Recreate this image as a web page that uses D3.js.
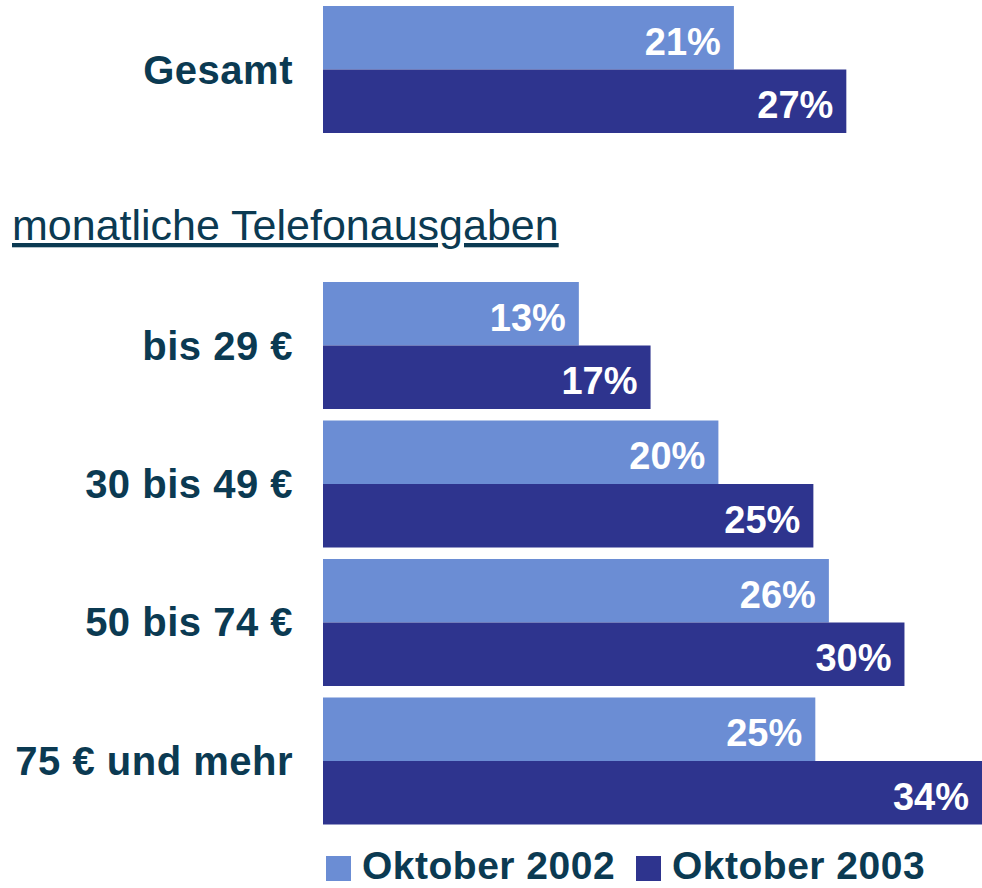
<!DOCTYPE html>
<html>
<head>
<meta charset="utf-8">
<script src="https://cdn.jsdelivr.net/npm/d3@7"></script>
<style>
  body { margin: 0; background: #fff; }
  text { font-family: "Liberation Sans", Arial, sans-serif; }
</style>
</head>
<body>
<div id="chart"></div>
<script>
// Data (share in %, bar lengths estimated; labels show rounded values)
var totalCategory = ["Gesamt"];
var totalValues2002 = [21.2];
var totalValues2003 = [27.0];

var categories = ["bis 29 €", "30 bis 49 €", "50 bis 74 €", "75 € und mehr"];
var values2002 = [13.2, 20.4, 26.1, 25.4];
var values2003 = [16.9, 25.3, 30.0, 34.0];

var seriesNames = ["Oktober 2002", "Oktober 2003"];
var subtitle = "monatliche Telefonausgaben";

var config = {
    colors: {
        light: '#6b8dd4',
        dark: '#2e348e',
        text: '#0b3a52',
        label: '#ffffff'
    },
    fontSize: 40,
    width: 982,
    height: 888,
    barLeft: 323,
    labelRight: 293
};

var fmt = d3.format('.0f');

var svg = d3.select('#chart').append('svg')
    .attr('width', config.width)
    .attr('height', config.height);

var x = d3.scaleLinear()
    .domain([0, 34])
    .range([config.barLeft, 982]);

var seriesColor = d3.scaleOrdinal()
    .domain(seriesNames)
    .range([config.colors.light, config.colors.dark]);

// builds rows of {cat, values: [{series, value}]}
function rows(cats, a, b) {
    return cats.map(function (c, i) {
        return { cat: c, values: [
            { series: seriesNames[0], value: a[i] },
            { series: seriesNames[1], value: b[i] }
        ] };
    });
}

function drawGroup(data, y) {
    var inner = d3.scaleBand()
        .domain(seriesNames)
        .range([0, y.bandwidth()]);

    var g = svg.append('g');

    var groups = g.selectAll('.grp')
        .data(data)
        .enter().append('g')
        .attr('transform', function (d) { return 'translate(0,' + y(d.cat) + ')'; });

    groups.selectAll('rect')
        .data(function (d) { return d.values; })
        .enter().append('rect')
        .attr('x', x(0))
        .attr('y', function (d) { return inner(d.series); })
        .attr('width', function (d) { return x(d.value) - x(0); })
        .attr('height', inner.bandwidth())
        .style('fill', function (d) { return seriesColor(d.series); });

    groups.selectAll('.val')
        .data(function (d) { return d.values; })
        .enter().append('text')
        .attr('x', function (d) { return Math.min(x(d.value), 982) - 13; })
        .attr('y', function (d) { return inner(d.series) + inner.bandwidth() / 2 + 17; })
        .attr('font-size', 38)
        .attr('font-weight', 'bold')
        .style('text-anchor', 'end')
        .style('fill', config.colors.label)
        .text(function (d) { return fmt(d.value) + '%'; });

    // category labels
    groups.append('text')
        .attr('x', config.labelRight)
        .attr('y', y.bandwidth() / 2 + 14)
        .attr('font-size', config.fontSize)
        .attr('font-weight', 'bold')
        .style('text-anchor', 'end')
        .style('letter-spacing', '0.5px')
        .style('fill', config.colors.text)
        .text(function (d) { return d.cat; });
}

// Gesamt block
var yTotal = d3.scaleBand()
    .domain(totalCategory)
    .range([6, 133]);
drawGroup(rows(totalCategory, totalValues2002, totalValues2003), yTotal);

// subtitle
svg.append('text')
    .attr('x', 12)
    .attr('y', 240)
    .attr('font-size', 43)
    .style('text-decoration', 'underline')
    .style('fill', config.colors.text)
    .text(subtitle);

// spending groups
var y = d3.scaleBand()
    .domain(categories)
    .range([282, 824.5])
    .paddingInner(0.083)
    .paddingOuter(0);
drawGroup(rows(categories, values2002, values2003), y);

// legend
var legendX = [326, 636];
var legend = svg.selectAll('.legend')
    .data(seriesNames)
    .enter().append('g')
    .attr('transform', function (d, i) { return 'translate(' + legendX[i] + ',855)'; });

legend.append('rect')
    .attr('y', 1)
    .attr('width', 25)
    .attr('height', 25)
    .style('fill', function (d) { return seriesColor(d); });

legend.append('text')
    .attr('x', 36)
    .attr('y', 24)
    .attr('font-size', 39)
    .attr('font-weight', 'bold')
    .style('letter-spacing', '0.5px')
    .style('fill', config.colors.text)
    .text(function (d) { return d; });
</script>
</body>
</html>
